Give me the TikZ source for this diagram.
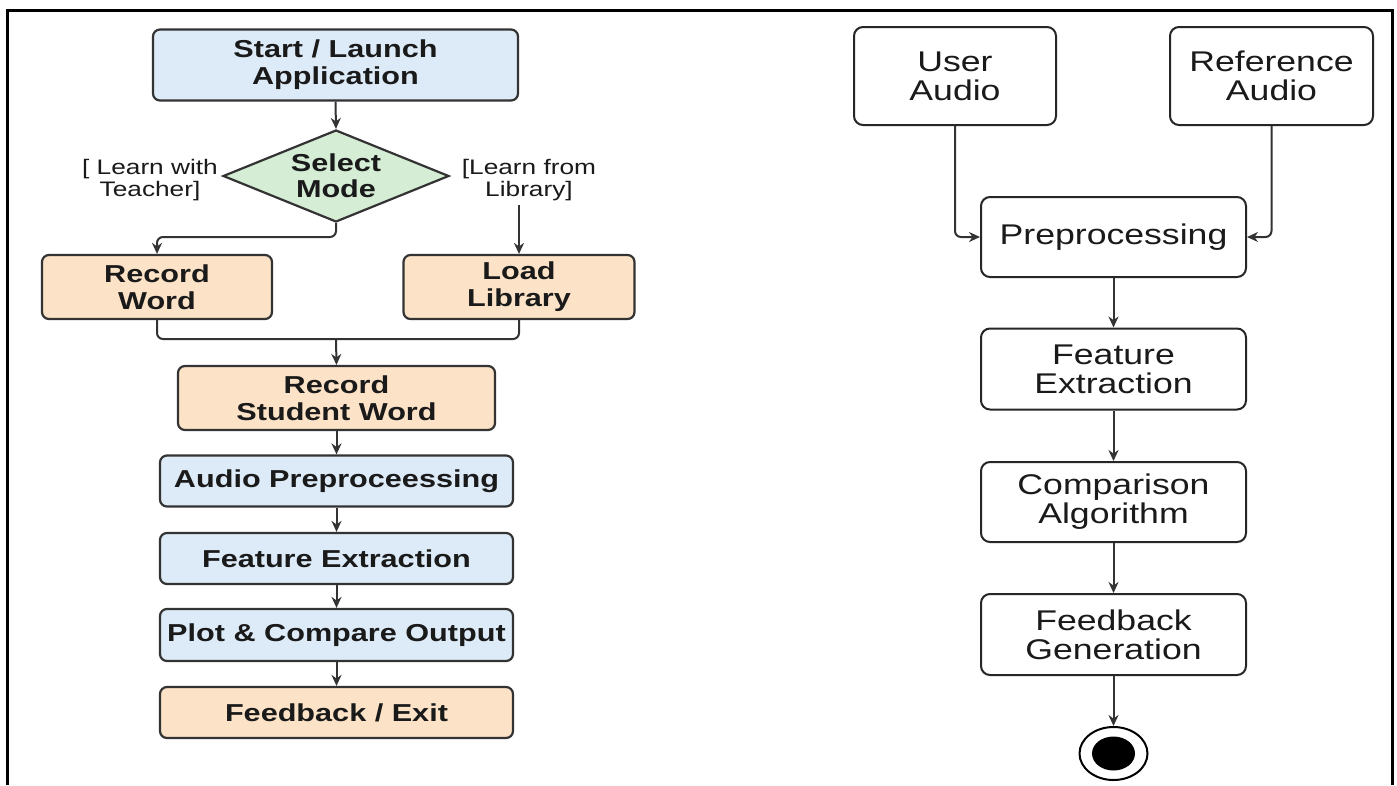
\documentclass[tikz,border=0pt]{standalone}
\usepackage{fontspec}
\setmainfont{Liberation Sans}[FakeStretch=1.25]
\usetikzlibrary{shapes.geometric,arrows.meta}
\definecolor{bluefill}{HTML}{DDEBF8}
\definecolor{orangefill}{HTML}{FCE3C7}
\definecolor{greenfill}{HTML}{D5ECD5}
\definecolor{edgec}{HTML}{333333}
\definecolor{textc}{HTML}{1A1A1A}
\begin{document}
\begin{tikzpicture}[x=1pt,y=-1pt,
  lbox/.style={draw=edgec, line width=2.2pt, rounded corners=7pt, inner sep=0pt, align=center,
    font=\bfseries\fontsize{24.5}{27}\selectfont, text=textc},
  bluebox/.style={lbox, fill=bluefill},
  orangebox/.style={lbox, fill=orangefill},
  decision/.style={draw=edgec, line width=2.2pt, fill=greenfill, diamond, aspect=2.45, inner sep=0pt,
    align=center, font=\bfseries\fontsize{24.5}{26}\selectfont, text=textc},
  guard/.style={font=\fontsize{21}{22.5}\selectfont, align=center, inner sep=0pt, text=textc},
  rbox/.style={draw=black!85, line width=2pt, rounded corners=9pt, fill=white, align=center,
    inner sep=0pt, font=\fontsize{28.5}{29}\selectfont, text=textc},
  arr/.style={draw=edgec, line width=2pt, -{Stealth[length=11pt,width=10pt]}},
  link/.style={draw=edgec, line width=2pt, rounded corners=6pt}
]
\useasboundingbox (0,0) rectangle (1397,785);
\fill[white] (0,0) rectangle (1397,785);
% frame
\draw[line width=3pt] (7,785) -- (7,10) -- (1392,10) -- (1392,785);

% ---------- left flow ----------
\node[bluebox, minimum width=365pt, minimum height=71pt] (start) at (335.5,65) {Start / Launch\\Application};
\node[decision, minimum width=226pt, minimum height=92pt] (mode) at (336,176) {Select\\Mode};
\node[guard] (learnT) at (150,180) {[ Learn with\\Teacher]};
\node[guard] (learnL) at (529,180) {[Learn from\\Library]};
\node[orangebox, minimum width=230pt, minimum height=64pt] (rec) at (157,287) {Record\\Word};
\node[orangebox, minimum width=231pt, minimum height=64pt] (load) at (519,287) {Load\\Library};
\node[orangebox, minimum width=317pt, minimum height=64pt] (student) at (336.5,398) {Record\\Student Word};
\node[bluebox, minimum width=353pt, minimum height=51pt] (audio) at (336.5,481) {Audio Preproceessing};
\node[bluebox, minimum width=353pt, minimum height=51pt] (feat) at (336.5,558.5) {Feature Extraction};
\node[bluebox, minimum width=353pt, minimum height=52pt] (plot) at (336.5,635) {Plot \& Compare Output};
\node[orangebox, minimum width=353pt, minimum height=51pt] (fbexit) at (336.5,712.5) {Feedback / Exit};

\coordinate (split) at (336,237);
\coordinate (libtop) at (519,205);
\coordinate (join) at (336,339);

\draw[arr] (start.south) -- (mode.north);
\draw[arr, rounded corners=6pt] (mode.south) -- (split) -| (rec.north);
\draw[arr] (libtop) -- (load.north);
\draw[link] (rec.south) |- (join) -| (load.south);
\draw[arr] (join) -- (student.north);
\draw[arr] (student.south) -- (audio.north);
\draw[arr] (audio.south) -- (feat.north);
\draw[arr] (feat.south) -- (plot.north);
\draw[arr] (plot.south) -- (fbexit.north);

% ---------- right flow ----------
\node[rbox, minimum width=202pt, minimum height=98pt] (user) at (955,76) {User\\Audio};
\node[rbox, minimum width=203pt, minimum height=98pt] (refa) at (1271.5,76) {Reference\\Audio};
\node[rbox, minimum width=265pt, minimum height=80pt] (prep) at (1113.5,237) {Preprocessing};
\node[rbox, minimum width=265pt, minimum height=81pt] (fext) at (1113.5,369) {Feature\\Extraction};
\node[rbox, minimum width=265pt, minimum height=80pt] (comp) at (1113.5,502) {Comparison\\Algorithm};
\node[rbox, minimum width=265pt, minimum height=81pt] (fgen) at (1113.5,634.5) {Feedback\\Generation};
\node[draw=black, line width=2pt, fill=white, ellipse, minimum width=68pt, minimum height=53pt, inner sep=0pt] (endo) at (1113.5,753.5) {};
\node[fill=black, ellipse, minimum width=43pt, minimum height=34pt, inner sep=0pt] (endi) at (endo.center) {};

\draw[arr, rounded corners=6pt] (user.south) |- (prep.west);
\draw[arr, rounded corners=6pt] (refa.south) |- (prep.east);
\draw[arr] (prep.south) -- (fext.north);
\draw[arr] (fext.south) -- (comp.north);
\draw[arr] (comp.south) -- (fgen.north);
\draw[arr] (fgen.south) -- (endo.north);
\end{tikzpicture}
\end{document}
